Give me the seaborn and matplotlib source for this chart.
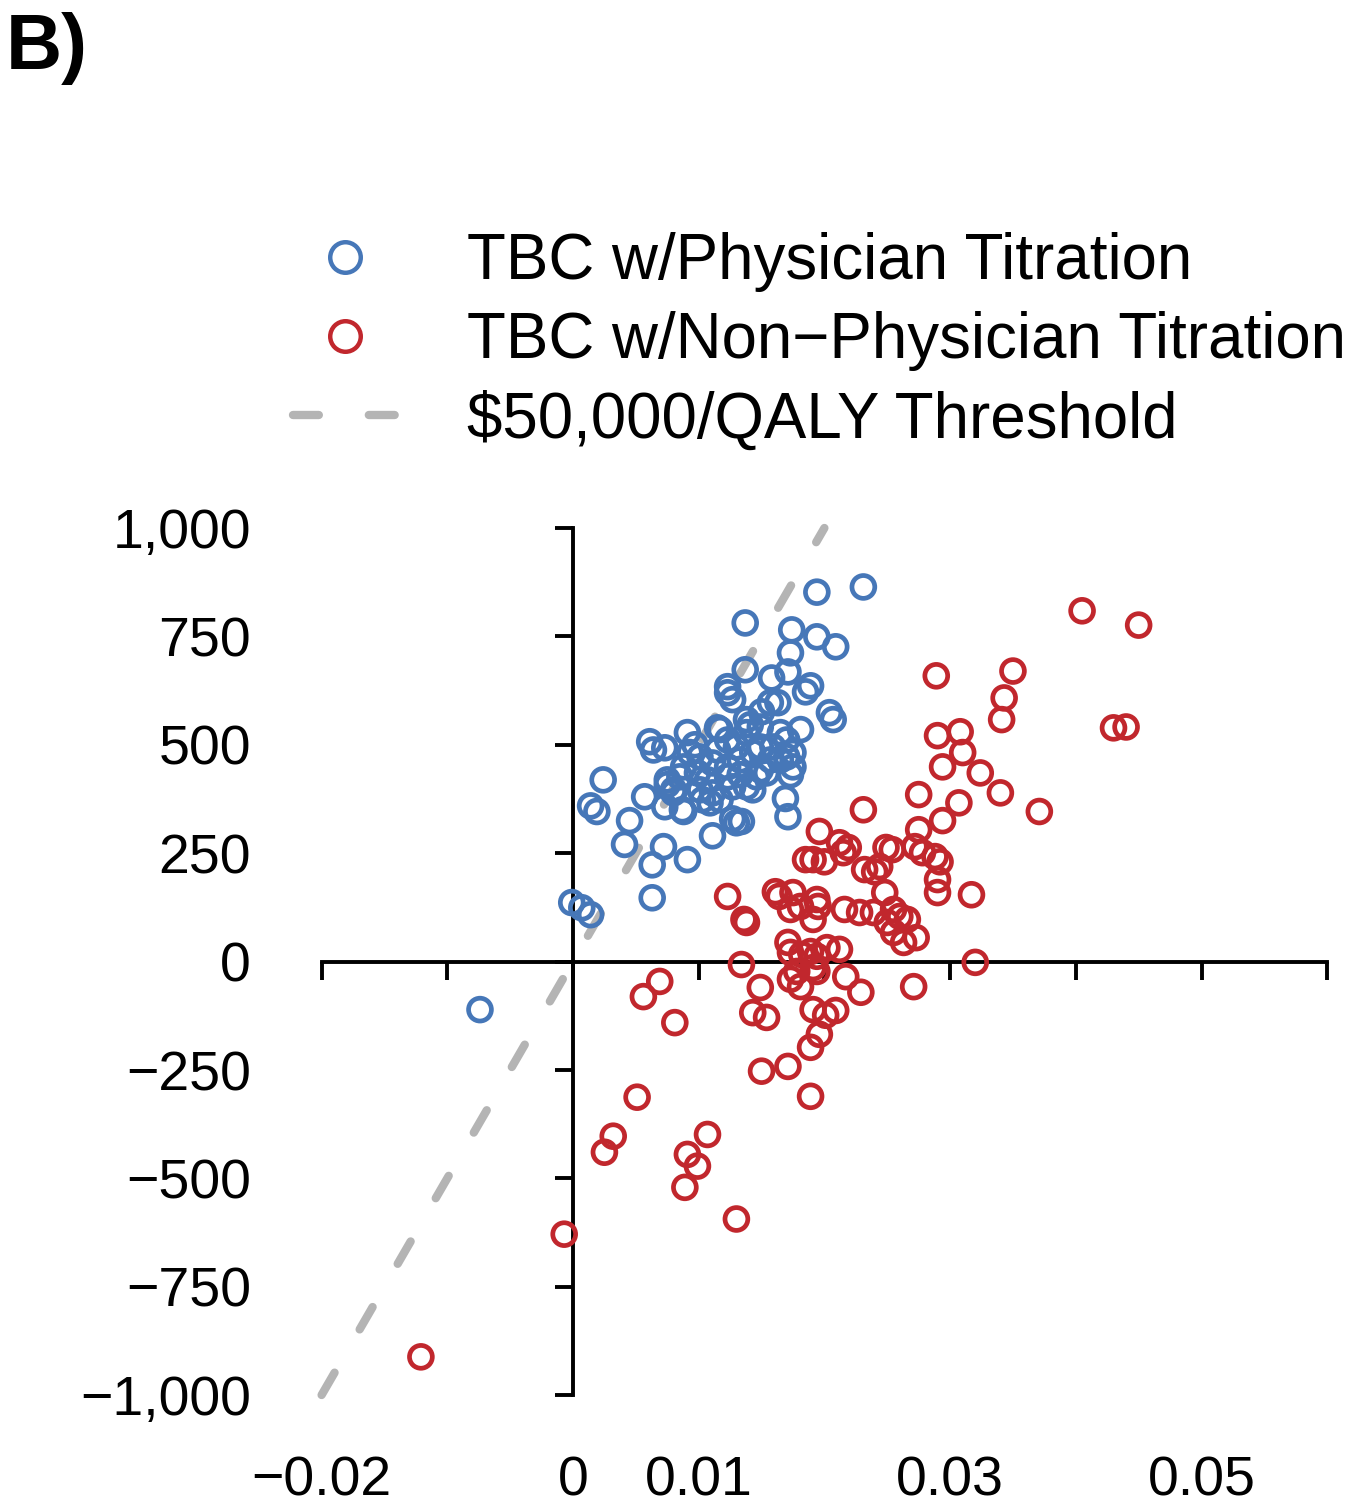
import numpy as np
import pandas as pd
import matplotlib
matplotlib.use("Agg")
import matplotlib.pyplot as plt
import matplotlib.transforms as mtransforms
from matplotlib.lines import Line2D
import seaborn as sns

# ---------------- data ----------------
series_names = ["TBC w/Physician Titration", "TBC w/Non\u2212Physician Titration"]
threshold_label = "$50,000/QALY Threshold"

phys_qaly = [0.0231, 0.0194, 0.0137, 0.0174, 0.0194, 0.0209, 0.0173, 0.0137, 0.0171, 0.0158,
             0.0123, 0.0123, 0.0127, 0.0189, 0.0185, 0.0157, 0.0163, 0.0204, 0.0207, 0.0181,
             0.0115, 0.0091, 0.0061, 0.0064, 0.0073, 0.0141, 0.0149, 0.0165, 0.0170, 0.0175,
             0.0024, 0.0014, 0.0019, 0.0057, 0.0045, 0.0041, 0.0073, 0.0087, 0.0111, 0.0127,
             0.0130, 0.0134, 0.0169, 0.0171, 0.0072, 0.0063, 0.0091, 0.0063, -0.0001, 0.0007,
             0.0014, 0.0075, 0.0088, -0.0074, 0.0085, 0.0099, 0.0107, 0.0111, 0.0103, 0.0109,
             0.0123, 0.0133, 0.0143, 0.0149, 0.0130, 0.0138, 0.0159, 0.0157, 0.0165, 0.0146,
             0.0138, 0.0127, 0.0123, 0.0093, 0.0101, 0.0111, 0.0088, 0.0080, 0.0143, 0.0154,
             0.0170, 0.0175, 0.0115, 0.0123, 0.0138, 0.0150, 0.0117, 0.0097, 0.0101, 0.0117,
             0.0149, 0.0133, 0.0075, 0.0080, 0.0173]
phys_cost = [864, 852, 781, 765, 749, 726, 712, 673, 668, 654,
             634, 620, 604, 636, 622, 597, 597, 574, 558, 535,
             539, 528, 507, 488, 493, 546, 541, 528, 511, 482,
             419, 359, 346, 380, 325, 270, 357, 350, 290, 329,
             320, 323, 376, 334, 265, 223, 235, 147, 136, 124,
             108, 408, 346, -111, 426, 435, 419, 389, 373, 366,
             449, 465, 482, 495, 495, 528, 495, 465, 465, 426,
             403, 403, 426, 482, 472, 458, 449, 396, 396, 435,
             472, 449, 488, 511, 558, 576, 535, 500, 396, 373,
             442, 431, 419, 389, 431]

nonphys_qaly = [0.0405, 0.0450, 0.0430, 0.0440, 0.0350, 0.0343, 0.0341, 0.0340, 0.0371, 0.0289,
                0.0308, 0.0290, 0.0310, 0.0294, 0.0324, 0.0307, 0.0275, 0.0294, 0.0275, 0.0231,
                0.0272, 0.0278, 0.0288, 0.0292, 0.0249, 0.0254, 0.0244, 0.0232, 0.0240, 0.0290,
                0.0290, 0.0317, 0.0196, 0.0212, 0.0219, 0.0215, 0.0185, 0.0191, 0.0200, 0.0123,
                0.0136, 0.0138, 0.0161, 0.0164, 0.0175, 0.0181, 0.0194, 0.0195, 0.0191, 0.0173,
                0.0216, 0.0228, 0.0239, 0.0248, 0.0255, 0.0260, 0.0250, 0.0255, 0.0263, 0.0273,
                0.0266, 0.0171, 0.0173, 0.0189, 0.0202, 0.0212, 0.0194, 0.0182, 0.0134, 0.0320,
                0.0173, 0.0181, 0.0149, 0.0194, 0.0217, 0.0229, 0.0271, 0.0143, 0.0154, 0.0191,
                0.0201, 0.0209, 0.0196, 0.0189, 0.0069, 0.0056, 0.0081, 0.0150, 0.0171, 0.0189,
                0.0051, 0.0032, 0.0025, 0.0107, 0.0091, 0.0099, 0.0089, 0.0130, -0.0007, -0.0121,
                0.0191, 0.0178]
nonphys_cost = [809, 776, 539, 541, 670, 608, 558, 389, 346, 659,
                530, 521, 482, 449, 435, 366, 385, 325, 304, 350,
                265, 251, 242, 230, 263, 258, 219, 212, 207, 189,
                159, 154, 300, 274, 263, 251, 235, 235, 230, 150,
                97, 90, 161, 150, 159, 127, 143, 127, 97, 120,
                120, 113, 113, 159, 120, 104, 90, 67, 44, 55,
                97, 44, 21, 23, 32, 28, 12, 16, -7, -2,
                -41, -58, -60, -23, -35, -71, -58, -118, -129, -111,
                -124, -113, -168, -198, -46, -81, -141, -253, -242, -311,
                -313, -403, -440, -399, -445, -472, -521, -594, -629, -912,
                -14, -23]

threshold_qaly = [-0.02, 0.02]
threshold_cost = [-1000, 1000]

y_ticks = [-1000, -750, -500, -250, 0, 250, 500, 750, 1000]
y_tick_labels = ["\u22121,000", "\u2212750", "\u2212500", "\u2212250", "0", "250", "500", "750", "1,000"]
x_ticks = [-0.02, -0.01, 0, 0.01, 0.02, 0.03, 0.04, 0.05, 0.06]
x_label_pos = [-0.02, 0, 0.01, 0.03, 0.05]
x_label_text = ["\u22120.02", "0", "0.01", "0.03", "0.05"]

blue = "#4677B8"
red = "#C1272D"
grey = "#B4B4B4"

df_phys = pd.DataFrame({"qaly": phys_qaly, "cost": phys_cost})
df_non = pd.DataFrame({"qaly": nonphys_qaly, "cost": nonphys_cost})
df_thr = pd.DataFrame({"qaly": threshold_qaly, "cost": threshold_cost})

# ---------------- style ----------------
sns.set_theme(style="white")
plt.rcParams["font.family"] = ["Liberation Sans", "DejaVu Sans"]
plt.rcParams["text.color"] = "black"

W, H = 1350, 1505
fig = plt.figure(figsize=(W / 100, H / 100), dpi=100)

xlim = (-0.0215, 0.0605)
ylim = (-1050, 1050)
left_px = 573 + xlim[0] * 12570
right_px = 573 + xlim[1] * 12570
top_px = 961.5 - ylim[1] * 0.4335
bot_px = 961.5 - ylim[0] * 0.4335
ax = fig.add_axes([left_px / W, 1 - bot_px / H, (right_px - left_px) / W, (bot_px - top_px) / H])

# threshold line
sns.lineplot(data=df_thr, x="qaly", y="cost", ax=ax, color=grey, lw=6,
             dashes=False, legend=False, zorder=1)
thr_line = ax.get_lines()[-1]
thr_line.set_dashes((3.1, 6.0))
thr_line.set_dash_capstyle("round")

sns.scatterplot(data=df_phys, x="qaly", y="cost", ax=ax, color=blue, facecolor="none",
                edgecolor=blue, linewidth=3.4, s=270, marker="o", legend=False, zorder=3)
sns.scatterplot(data=df_non, x="qaly", y="cost", ax=ax, color=red, facecolor="none",
                edgecolor=red, linewidth=3.4, s=270, marker="o", legend=False, zorder=3)

ax.set_xlim(*xlim)
ax.set_ylim(*ylim)
ax.set_xlabel("")
ax.set_ylabel("")

for s in ["top", "right"]:
    ax.spines[s].set_visible(False)
ax.spines["left"].set_position(("data", 0))
ax.spines["bottom"].set_position(("data", 0))
ax.spines["left"].set_bounds(-1000, 1000)
ax.spines["bottom"].set_bounds(-0.02, 0.06)
for s in ["left", "bottom"]:
    ax.spines[s].set_color("black")
    ax.spines[s].set_linewidth(2.8)
    ax.spines[s].set_capstyle("projecting")
ax.set_yticks(y_ticks)
ax.set_xticks(x_ticks)
ax.tick_params(axis="both", direction="out", length=13, width=2.8, color="black",
               labelleft=False, labelbottom=False, left=True, bottom=True)

# tick labels placed at the figure margins (as in the reference)
fs_tick = 40
ytrans = mtransforms.blended_transform_factory(ax.transAxes, ax.transData) + \
    mtransforms.ScaledTranslation(0, -14.5 / 72, fig.dpi_scale_trans)
ylab_x = (251 - left_px) / (right_px - left_px)
for v, t in zip(y_ticks, y_tick_labels):
    ax.text(ylab_x, v, t, transform=ytrans, ha="right", va="baseline", fontsize=fs_tick,
            color="black")
xlab_y = (bot_px - 1495) / (bot_px - top_px)
for v, t in zip(x_label_pos, x_label_text):
    ax.text(v, xlab_y, t, transform=ax.get_xaxis_transform(), ha="center", va="baseline",
            fontsize=fs_tick, clip_on=False, color="black")

# legend
handles = [
    Line2D([], [], ls="", marker="o", ms=22, mfc="none", mec=blue, mew=3.2),
    Line2D([], [], ls="", marker="o", ms=22, mfc="none", mec=red, mew=3.2),
    Line2D([], [], color=grey, lw=6, dashes=(3.1, 6.0), dash_capstyle="round"),
]
leg = fig.legend(handles, series_names + [threshold_label], loc="upper left",
                 bbox_to_anchor=(293 / W, 1 - 232 / H), frameon=False, fontsize=45.8,
                 borderpad=0, borderaxespad=0, handlelength=1.64, handletextpad=1.1,
                 labelspacing=0.30)
for t in leg.get_texts():
    t.set_color("black")

fig.text(6 / W, 1 - 12 / H, "B)", fontsize=56, fontweight="bold", ha="left", va="top",
         color="black")

fig.savefig("out.png", dpi=100, facecolor="white")
